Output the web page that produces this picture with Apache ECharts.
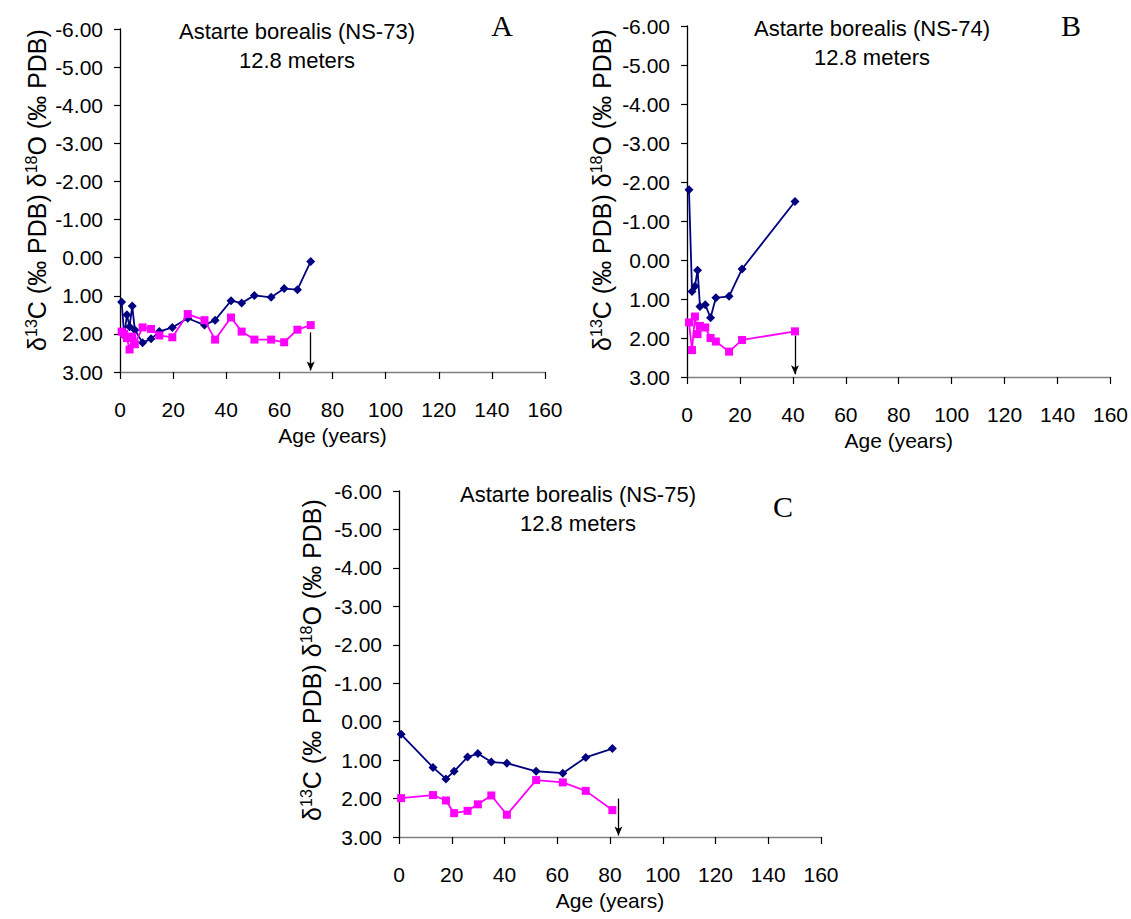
<!DOCTYPE html>
<html>
<head>
<meta charset="utf-8">
<title>Astarte borealis isotope profiles</title>
<script src="https://cdn.jsdelivr.net/npm/echarts@6/dist/echarts.min.js"></script>
<style>
  html, body { margin: 0; padding: 0; background: #fff; }
  #chart { width: 1131px; height: 919px; }
</style>
</head>
<body>
<div id="chart"></div>
<script>
// Shell NS-73
const agesA = [0.6, 1.6, 2.6, 3.6, 4.6, 5.6, 8.5, 11.7, 14.8, 19.7, 25.5, 31.8, 35.8, 41.8, 45.8, 50.6, 56.9, 61.8, 66.8, 71.8];
const navyA = [1.16, 2.05, 1.50, 1.81, 1.27, 1.90, 2.23, 2.13, 1.94, 1.83, 1.59, 1.77, 1.64, 1.13, 1.19, 0.99, 1.04, 0.81, 0.84, 0.10];
const magentaA = [1.94, 2.00, 2.11, 2.41, 2.07, 2.27, 1.83, 1.87, 2.04, 2.09, 1.48, 1.64, 2.15, 1.57, 1.94, 2.15, 2.15, 2.22, 1.89, 1.77];
const arrowA = [71.8, 1.96, 2.96];

// Shell NS-74
const agesB = [0.75, 1.9, 3.0, 4.0, 4.9, 6.9, 8.9, 10.9, 15.9, 20.8, 40.8];
const navyB = [-1.80, 0.81, 0.67, 0.26, 1.19, 1.15, 1.48, 0.97, 0.93, 0.23, -1.50];
const magentaB = [1.60, 2.31, 1.45, 1.90, 1.69, 1.73, 2.00, 2.09, 2.35, 2.05, 1.83];
const arrowB = [40.8, 1.94, 2.93];

// Shell NS-75
const agesC = [0.8, 12.9, 17.8, 20.9, 26.0, 29.9, 35.0, 40.9, 52.0, 62.1, 70.8, 80.9];
const navyC = [0.33, 1.19, 1.49, 1.29, 0.92, 0.83, 1.05, 1.08, 1.29, 1.34, 0.93, 0.70];
const magentaC = [1.99, 1.91, 2.05, 2.38, 2.32, 2.15, 1.92, 2.42, 1.52, 1.58, 1.80, 2.30];
const arrowC = [83.2, 2.00, 2.96];

const titles = ['Astarte borealis (NS-73)', 'Astarte borealis (NS-74)', 'Astarte borealis (NS-75)'];
const depthLabel = '12.8 meters';
const panelLetters = ['A', 'B', 'C'];
const xName = 'Age (years)';

const SANS = '"Liberation Sans", Arial, sans-serif';
const SERIF = '"Liberation Serif", "Times New Roman", serif';

const panels = [
  { ages: agesA, navy: navyA, magenta: magentaA, arrow: arrowA,
    grid: { left: 120, top: 29, width: 425, height: 343 },
    titleX: 297, titleY: 31, letterX: 502, letterY: 25, nameX: 37, nameY: 190 },
  { ages: agesB, navy: navyB, magenta: magentaB, arrow: arrowB,
    grid: { left: 687, top: 26, width: 426, height: 351 },
    titleX: 872, titleY: 28, letterX: 1071, letterY: 25, nameX: 602, nameY: 190 },
  { ages: agesC, navy: navyC, magenta: magentaC, arrow: arrowC,
    grid: { left: 399, top: 491, width: 422, height: 346 },
    titleX: 578, titleY: 494, letterX: 783, letterY: 506, nameX: 312, nameY: 660 }
];

const pairs = (xs, ys) => xs.map((x, i) => [x, ys[i]]);

const grids = [], xAxes = [], yAxes = [], series = [], graphics = [];

panels.forEach((p, i) => {
  grids.push(Object.assign({ containLabel: false }, p.grid));

  xAxes.push({
    gridIndex: i, type: 'value', min: 0, max: 160, interval: 20,
    name: xName, nameLocation: 'middle', nameGap: 53,
    nameTextStyle: { fontFamily: SANS, fontSize: 21, color: '#000' },
    axisLine: { onZero: false, lineStyle: { color: '#808080', width: 1.3 } },
    axisTick: { inside: false, length: 7, lineStyle: { color: '#000', width: 1.2 } },
    axisLabel: { margin: 27, fontFamily: SANS, fontSize: 21, color: '#000' },
    splitLine: { show: false }
  });

  yAxes.push({
    gridIndex: i, type: 'value', min: -6, max: 3, interval: 1, inverse: true,
    axisLine: { show: true, onZero: false, lineStyle: { color: '#000', width: 1.3 } },
    axisTick: { show: true, inside: false, length: 6, lineStyle: { color: '#000', width: 1.2 } },
    axisLabel: { margin: 17, fontFamily: SANS, fontSize: 21, color: '#000',
                 formatter: v => v.toFixed(2) },
    splitLine: { show: false }
  });

  series.push({
    type: 'line', xAxisIndex: i, yAxisIndex: i,
    data: pairs(p.ages, p.navy),
    symbol: 'diamond', symbolSize: 9,
    lineStyle: { color: '#000080', width: 1.8 },
    itemStyle: { color: '#000080' },
    emphasis: { disabled: true }, z: 2
  });

  series.push({
    type: 'line', xAxisIndex: i, yAxisIndex: i,
    data: pairs(p.ages, p.magenta),
    symbol: 'rect', symbolSize: 8,
    lineStyle: { color: '#ff00ff', width: 1.8 },
    itemStyle: { color: '#ff00ff' },
    emphasis: { disabled: true }, z: 3,
    markLine: {
      silent: true, animation: false,
      symbol: ['none', 'arrow'], symbolSize: [6, 9],
      label: { show: false },
      lineStyle: { color: '#000', width: 1.3, type: 'solid' },
      data: [[{ coord: [p.arrow[0], p.arrow[1]] }, { coord: [p.arrow[0], p.arrow[2]] }]]
    }
  });

  // panel heading
  graphics.push({ type: 'text', x: p.titleX, y: p.titleY,
    style: { text: titles[i], fontFamily: SANS, fontSize: 22, fill: '#000',
             align: 'center', verticalAlign: 'middle' } });
  graphics.push({ type: 'text', x: p.titleX, y: p.titleY + 29,
    style: { text: depthLabel, fontFamily: SANS, fontSize: 22, fill: '#000',
             align: 'center', verticalAlign: 'middle' } });
  graphics.push({ type: 'text', x: p.letterX, y: p.letterY,
    style: { text: panelLetters[i], fontFamily: SERIF, fontSize: 30, fill: '#000',
             align: 'center', verticalAlign: 'middle' } });

  // vertical axis title with superscript mass numbers
  graphics.push({ type: 'text', x: p.nameX, y: p.nameY, rotation: Math.PI / 2,
    style: {
      text: '{d|δ}{s|13}{d|C (‰ PDB) δ}{s|18}{d|O (‰ PDB)}',
      align: 'center', verticalAlign: 'middle',
      rich: {
        d: { fontFamily: SANS, fontSize: 25, lineHeight: 27, fill: '#000' },
        s: { fontFamily: SANS, fontSize: 16, lineHeight: 27, fill: '#000', verticalAlign: 'top' }
      }
    } });
});

const chart = echarts.init(document.getElementById('chart'), null, { renderer: 'svg' });
chart.setOption({
  animation: false,
  backgroundColor: '#fff',
  grid: grids,
  xAxis: xAxes,
  yAxis: yAxes,
  series: series,
  graphic: graphics
});
</script>
</body>
</html>
